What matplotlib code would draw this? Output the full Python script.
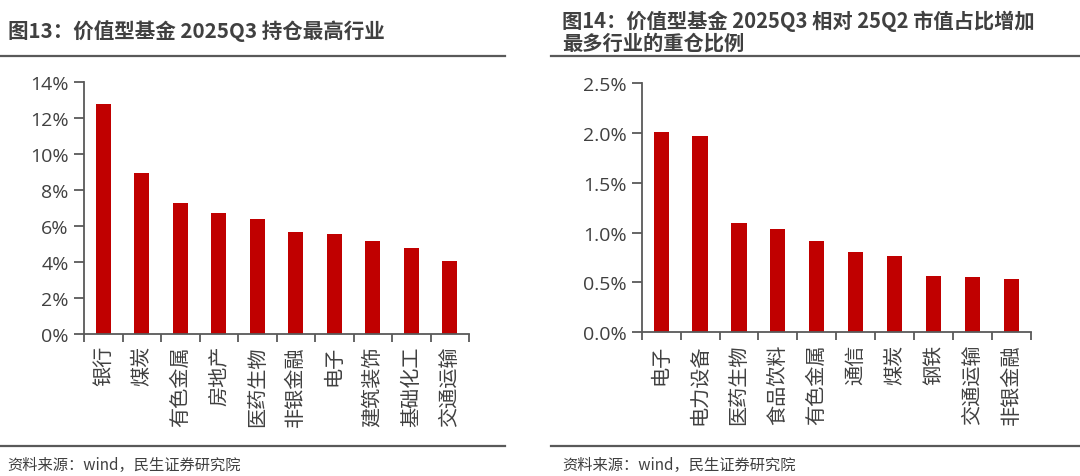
import matplotlib
matplotlib.use('Agg')
import matplotlib.pyplot as plt
import numpy as np
from matplotlib.lines import Line2D
from matplotlib.ticker import FuncFormatter

plt.rcParams['font.family'] = ['Noto Sans CJK SC', 'DejaVu Sans']

### --->>> 数据
hangye_left = ['银行', '煤炭', '有色金属', '房地产', '医药生物', '非银金融', '电子', '建筑装饰', '基础化工', '交通运输']
zhanbi_left = [12.76, 8.92, 7.29, 6.70, 6.40, 5.64, 5.53, 5.18, 4.77, 4.07]

hangye_right = ['电子', '电力设备', '医药生物', '食品饮料', '有色金属', '通信', '煤炭', '钢铁', '交通运输', '非银金融']
zhanbi_right = [2.005, 1.965, 1.096, 1.033, 0.912, 0.802, 0.762, 0.568, 0.555, 0.531]

W, H = 1080, 477
bar_color = '#C00000'
txt_color = '#404040'
line_color = '#595959'

fig = plt.figure(figsize=(W / 100, H / 100), dpi=100)


def px_axes(x0, x1, y_top, y_bot):
    return fig.add_axes([x0 / W, (H - y_bot) / H, (x1 - x0) / W, (y_bot - y_top) / H])


def style_axes(ax, labels, values, ymax, step, fmt):
    x = np.arange(len(labels))
    ax.bar(x, values, 0.39, color=bar_color)
    ax.set_xlim(-0.5, len(labels) - 0.5)
    ax.set_ylim(0, ymax)
    ax.set_yticks(np.arange(0, ymax + step / 2, step))
    ax.yaxis.set_major_formatter(FuncFormatter(lambda v, p: fmt.format(v)))
    ax.set_xticks(x)
    ax.set_xticklabels(labels, rotation=90, va='top')
    ax.set_xticks(np.arange(-0.5, len(labels)), minor=True)
    ax.tick_params(axis='x', which='major', length=0, pad=8, labelsize=14.5, labelcolor=txt_color)
    ax.tick_params(axis='x', which='minor', length=6, width=1.3, color=line_color, direction='out')
    ax.tick_params(axis='y', length=7, width=1.3, color=line_color, labelsize=14, labelcolor=txt_color, pad=4,
                   labelfontfamily='Open Sans')
    for s in ['top', 'right']:
        ax.spines[s].set_visible(False)
    for s in ['left', 'bottom']:
        ax.spines[s].set_color(line_color)
        ax.spines[s].set_linewidth(1.3)


### --->>> 图13
ax1 = px_axes(84, 469, 82.7, 335)
style_axes(ax1, hangye_left, zhanbi_left, 14, 2, '{:.0f}%')

### --->>> 图14
ax2 = px_axes(641.7, 1030.7, 84, 333.3)
style_axes(ax2, hangye_right, zhanbi_right, 2.5, 0.5, '{:.1f}%')

### --->>> 标题与来源
fig.text(8 / W, 1 - 31 / H, '图13：价值型基金 2025Q3 持仓最高行业', fontsize=14.8, fontweight='bold',
         color=txt_color, ha='left', va='center')
fig.text(562 / W, 1 - 32 / H, '图14：价值型基金 2025Q3 相对 25Q2 市值占比增加\n最多行业的重仓比例', fontsize=14.6,
         fontweight='bold', color=txt_color, ha='left', va='center', linespacing=1.05)

fig.text(7 / W, 1 - 465 / H, '资料来源：wind，民生证券研究院', fontsize=11, color=txt_color, ha='left', va='center')
fig.text(562 / W, 1 - 465 / H, '资料来源：wind，民生证券研究院', fontsize=11, color=txt_color, ha='left', va='center')

for x0, x1 in [(0, 505), (551, 1080)]:
    for y in [57, 447]:
        fig.add_artist(Line2D([x0 / W, x1 / W], [1 - y / H, 1 - y / H], color=line_color, linewidth=1.6))

fig.savefig('out.png', dpi=100)
